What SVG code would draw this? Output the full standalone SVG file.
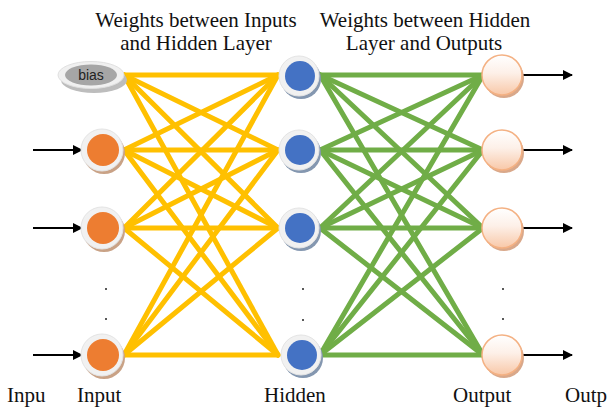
<svg xmlns="http://www.w3.org/2000/svg" width="608" height="408" viewBox="0 0 608 408">
<style>
.t{font-family:"Liberation Serif","Times New Roman",serif;font-size:21px;fill:#111;}
.y{stroke:#FFC000;stroke-width:5;fill:none;stroke-linecap:round;}
.g{stroke:#70AD47;stroke-width:5;fill:none;stroke-linecap:round;}
.a{stroke:#000;stroke-width:2;fill:none;marker-end:url(#ah);}
.ring{fill:#F1F1F1;stroke:#E4E4E4;stroke-width:1;}
.in{fill:#ED7D31;}
.hid{fill:#4472C4;}
.dot{fill:#222;}
</style>
<defs>
<marker id="ah" markerWidth="10" markerHeight="10" refX="9" refY="5" orient="auto" markerUnits="userSpaceOnUse" viewBox="0 0 10 10">
<path d="M0,0 L10,5 L0,10 z" fill="#000"/>
</marker>
<linearGradient id="og" x1="0" y1="0" x2="0" y2="1">
<stop offset="0" stop-color="#FFFFFF"/>
<stop offset="0.45" stop-color="#FDF0E8"/>
<stop offset="1" stop-color="#F8C8A8"/>
</linearGradient>
</defs>

<g id="titles">
<text class="t" x="196" y="27" text-anchor="middle">Weights between Inputs</text>
<text class="t" x="196" y="50" text-anchor="middle">and Hidden Layer</text>
<text class="t" x="425" y="27" text-anchor="middle">Weights between Hidden</text>
<text class="t" x="424" y="50" text-anchor="middle">Layer and Outputs</text>
</g>

<g id="connectors">
<g id="w1">
<line class="y" x1="124" y1="75" x2="278" y2="75"/>
<line class="y" x1="124" y1="75" x2="278" y2="150"/>
<line class="y" x1="124" y1="75" x2="278" y2="228"/>
<line class="y" x1="124" y1="75" x2="278" y2="355"/>
<line class="y" x1="124" y1="150" x2="278" y2="75"/>
<line class="y" x1="124" y1="150" x2="278" y2="150"/>
<line class="y" x1="124" y1="150" x2="278" y2="228"/>
<line class="y" x1="124" y1="150" x2="278" y2="355"/>
<line class="y" x1="124" y1="228" x2="278" y2="75"/>
<line class="y" x1="124" y1="228" x2="278" y2="150"/>
<line class="y" x1="124" y1="228" x2="278" y2="228"/>
<line class="y" x1="124" y1="228" x2="278" y2="355"/>
<line class="y" x1="124" y1="355" x2="278" y2="75"/>
<line class="y" x1="124" y1="355" x2="278" y2="150"/>
<line class="y" x1="124" y1="355" x2="278" y2="228"/>
<line class="y" x1="124" y1="355" x2="278" y2="355"/>
</g>
<g id="w2">
<line class="g" x1="320" y1="75" x2="483" y2="75"/>
<line class="g" x1="320" y1="75" x2="483" y2="150"/>
<line class="g" x1="320" y1="75" x2="483" y2="228"/>
<line class="g" x1="320" y1="75" x2="483" y2="355"/>
<line class="g" x1="320" y1="150" x2="483" y2="75"/>
<line class="g" x1="320" y1="150" x2="483" y2="150"/>
<line class="g" x1="320" y1="150" x2="483" y2="228"/>
<line class="g" x1="320" y1="150" x2="483" y2="355"/>
<line class="g" x1="320" y1="228" x2="483" y2="75"/>
<line class="g" x1="320" y1="228" x2="483" y2="150"/>
<line class="g" x1="320" y1="228" x2="483" y2="228"/>
<line class="g" x1="320" y1="228" x2="483" y2="355"/>
<line class="g" x1="320" y1="355" x2="483" y2="75"/>
<line class="g" x1="320" y1="355" x2="483" y2="150"/>
<line class="g" x1="320" y1="355" x2="483" y2="228"/>
<line class="g" x1="320" y1="355" x2="483" y2="355"/>
</g>
<g id="arrows">
<line class="a" x1="33" y1="150" x2="82" y2="150"/>
<line class="a" x1="33" y1="228" x2="82" y2="228"/>
<line class="a" x1="33" y1="355" x2="82" y2="355"/>
<line class="a" x1="522" y1="75" x2="572" y2="75"/>
<line class="a" x1="522" y1="150" x2="572" y2="150"/>
<line class="a" x1="522" y1="228" x2="572" y2="228"/>
<line class="a" x1="522" y1="355" x2="572" y2="355"/>
</g>
</g>

<g id="bias">
<ellipse cx="94" cy="80" rx="33" ry="13" fill="#BDBDBD"/>
<ellipse cx="91" cy="75" rx="33" ry="13.5" fill="#F0F0F0" stroke="#E0E0E0"/>
<ellipse cx="91" cy="75" rx="26" ry="10.5" fill="#A6A6A6"/>
<text x="91" y="80" text-anchor="middle" style="font-family:'Liberation Sans',Arial,sans-serif;font-size:14px;fill:#222">bias</text>
</g>

<g id="in1"><circle cx="104" cy="153" r="21" fill="#C9A286"/><circle class="ring" cx="102" cy="150" r="21"/><circle class="in" cx="103" cy="150" r="16"/></g>
<g id="in2"><circle cx="104" cy="231" r="21" fill="#C9A286"/><circle class="ring" cx="102" cy="228" r="21"/><circle class="in" cx="103" cy="228" r="16"/></g>
<g id="in3"><circle cx="104" cy="358" r="21" fill="#C9A286"/><circle class="ring" cx="102" cy="355" r="21"/><circle class="in" cx="103" cy="355" r="16"/></g>

<g id="h1"><circle cx="301" cy="79" r="20" fill="#8497B0"/><circle class="ring" cx="299" cy="76" r="20"/><circle class="hid" cx="300" cy="76" r="15"/></g>
<g id="h2"><circle cx="301" cy="153" r="20" fill="#8497B0"/><circle class="ring" cx="299" cy="150" r="20"/><circle class="hid" cx="300" cy="150" r="15"/></g>
<g id="h3"><circle cx="301" cy="231" r="20" fill="#8497B0"/><circle class="ring" cx="299" cy="228" r="20"/><circle class="hid" cx="300" cy="228" r="15"/></g>
<g id="h4"><circle cx="303" cy="358" r="20" fill="#8497B0"/><circle class="ring" cx="301" cy="355" r="20"/><circle class="hid" cx="302" cy="355" r="15"/></g>

<g id="o1"><circle cx="504" cy="78" r="20" fill="#D9A88A"/><circle cx="502" cy="75" r="20" fill="url(#og)" stroke="#F4B183" stroke-width="1.5"/></g>
<g id="o2"><circle cx="504" cy="153" r="20" fill="#D9A88A"/><circle cx="502" cy="150" r="20" fill="url(#og)" stroke="#F4B183" stroke-width="1.5"/></g>
<g id="o3"><circle cx="504" cy="231" r="20" fill="#D9A88A"/><circle cx="502" cy="228" r="20" fill="url(#og)" stroke="#F4B183" stroke-width="1.5"/></g>
<g id="o4"><circle cx="504" cy="358" r="20" fill="#D9A88A"/><circle cx="502" cy="355" r="20" fill="url(#og)" stroke="#F4B183" stroke-width="1.5"/></g>

<g id="dots">
<circle class="dot" cx="106" cy="289" r="1"/><circle class="dot" cx="106" cy="319" r="1"/>
<circle class="dot" cx="303" cy="289" r="1"/><circle class="dot" cx="303" cy="320" r="1"/>
<circle class="dot" cx="503" cy="289" r="1"/><circle class="dot" cx="503" cy="319" r="1"/>
</g>

<g id="labels">
<text class="t" x="7" y="402">Inpu</text>
<text class="t" x="77" y="402">Input</text>
<text class="t" x="264" y="402">Hidden</text>
<text class="t" x="453" y="402">Output</text>
<text class="t" x="565" y="402">Outp</text>
</g>
</svg>
